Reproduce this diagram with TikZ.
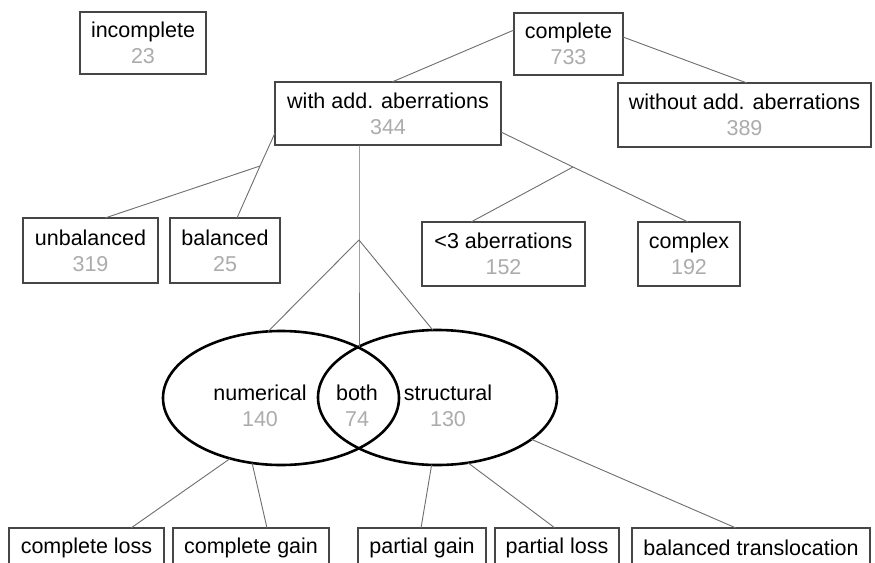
\documentclass[tikz,border=0pt]{standalone}
\usepackage{fontspec}
\setmainfont{Liberation Sans}
\usetikzlibrary{shapes.geometric,calc}
\definecolor{numgray}{RGB}{172,172,172}
\definecolor{boxline}{RGB}{70,70,70}
\definecolor{conline}{RGB}{110,110,110}
\newcommand{\numtxt}[1]{\\{\color{numgray}#1}}
\begin{document}
\begin{tikzpicture}[x=1pt,y=-1pt,
  font=\fontsize{21.5}{26}\selectfont,
  box/.style={draw=boxline, line width=1.1pt, rectangle, inner sep=0pt, outer sep=0pt, align=center},
  conn/.style={draw=conline, line width=0.9pt},
  venn/.style={draw=black, line width=2.6pt, ellipse, inner sep=0pt, outer sep=0pt},
  lbl/.style={align=center, inner sep=0pt}]
\clip (0,0) rectangle (875,562);
\fill[white] (0,0) rectangle (875,562);

% top boxes
\node[box, minimum width=126pt, minimum height=62pt] (incomplete) at (143,43) {incomplete\numtxt{23}};
\node[box, minimum width=109pt, minimum height=62pt] (complete) at (568.5,44) {complete\numtxt{733}};
\node[box, minimum width=226pt, minimum height=63pt] (withadd) at (388,113.5) {with add. aberrations\numtxt{344}};
\node[box, minimum width=253pt, minimum height=64pt] (without) at (744.5,115) {without add. aberrations\numtxt{389}};

% second row
\node[box, minimum width=135pt, minimum height=65pt] (unbalanced) at (90.5,250.5) {unbalanced\numtxt{319}};
\node[box, minimum width=110pt, minimum height=65pt] (balanced) at (225,250.5) {balanced\numtxt{25}};
\node[box, minimum width=163pt, minimum height=64pt] (less3) at (503.5,254) {<3 aberrations\numtxt{152}};
\node[box, minimum width=102pt, minimum height=64pt] (complex) at (689,254) {complex\numtxt{192}};

% Venn ellipses
\node[venn, minimum width=236pt, minimum height=134pt] (numE) at (281,398) {};
\node[venn, minimum width=239pt, minimum height=135pt] (strE) at (437.5,397.5) {};
\node[lbl] (numT) at (260,406) {numerical\numtxt{140}};
\node[lbl] (bothT) at (357,406) {both\numtxt{74}};
\node[lbl] (strT) at (448,406) {structural\numtxt{130}};

% bottom boxes
\node[box, minimum width=155pt, minimum height=40pt] (closs) at (86.5,548) {complete loss};
\node[box, minimum width=156pt, minimum height=40pt] (cgain) at (251,548) {complete gain};
\node[box, minimum width=128pt, minimum height=40pt] (pgain) at (422,548) {partial gain};
\node[box, minimum width=124pt, minimum height=40pt] (ploss) at (557,548) {partial loss};
\node[box, minimum width=238pt, minimum height=40pt] (baltrans) at (751,548) {balanced translocation};

% junctions
\coordinate (jL) at (260,166);
\coordinate (jR) at (573,167);
\coordinate (jV) at (359,240);
\coordinate (topX) at (359,347);

% connectors
\draw[conn] ($(complete.north west)+(0,17)$) -- ($(withadd.north west)+(117,0)$);
\draw[conn] ($(complete.north east)+(0,24)$) -- ($(without.north west)+(129,0)$);

\draw[conn] ($(withadd.south west)+(0,-12)$) -- (jL) -- ($(balanced.north west)+(67,0)$);
\draw[conn] (jL) -- ($(unbalanced.north west)+(82,0)$);

\draw[conn] ($(withadd.south east)+(0,-13)$) -- (jR) -- ($(complex.north west)+(50,0)$);
\draw[conn] (jR) -- ($(less3.north west)+(49,0)$);

\draw[conn] ($(withadd.south)+(-29,0)$) -- (jV) -- (topX);
\draw[conn] (jV) -- (numE.101);
\draw[conn] (jV) -- (strE.94);

\draw[conn] (numE.230) -- ($(closs.north west)+(122,0)$);
\draw[conn] (numE.246) -- ($(cgain.north west)+(94,0)$);
\draw[conn] (strE.265) -- ($(pgain.north west)+(63,0)$);
\draw[conn] (strE.295) -- ($(ploss.north west)+(60,0)$);
\draw[conn] (strE.336) -- ($(baltrans.north west)+(104,0)$);
\end{tikzpicture}
\end{document}
